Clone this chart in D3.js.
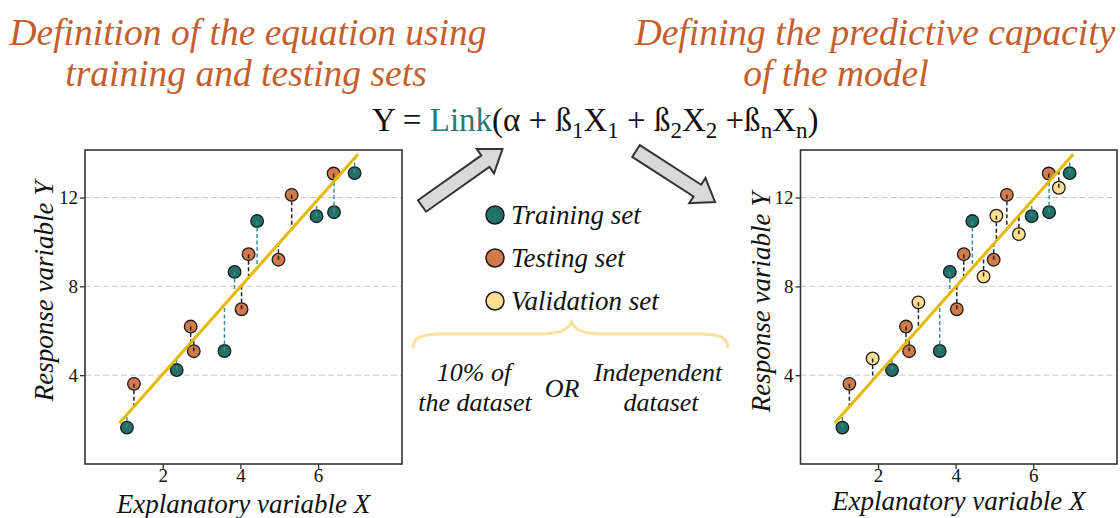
<!DOCTYPE html>
<html>
<head>
<meta charset="utf-8">
<script src="https://cdn.jsdelivr.net/npm/d3@7"></script>
<style>
  html, body { margin: 0; padding: 0; background: #fff; }
  svg { display: block; }
  text { font-family: "Liberation Serif", "Times New Roman", Times, serif; }
</style>
</head>
<body>
<svg id="chart" width="1120" height="518"></svg>
<script>
// ---------------- data ----------------
const trainX = [1.08, 2.36, 3.59, 3.85, 4.43, 5.96, 6.41, 6.94];
const trainY = [1.64, 4.23, 5.09, 8.65, 10.94, 11.16, 11.34, 13.10];
const testX  = [1.26, 2.72, 2.80, 4.03, 4.21, 4.98, 5.32, 6.40];
const testY  = [3.61, 6.19, 5.08, 6.97, 9.45, 9.20, 12.12, 13.08];
const validX = [1.86, 3.04, 4.72, 5.05, 5.63, 6.66];
const validY = [4.75, 7.28, 8.44, 11.18, 10.35, 12.44];
const fitIntercept = 0.10;
const fitSlope = 1.97;
const fitRange = [0.885, 7.03];
const xTicks = [2, 4, 6];
const yTicks = [4, 8, 12];
const xDomain = [0, 8.16];
const yDomain = [0, 14.14];
const legendLabels = ["Training set", "Testing set", "Validation set"];

// ---------------- styles ----------------
const FONT = "'Liberation Serif', 'Times New Roman', Times, serif";
const COL = { train: "#22706a", test: "#d27a4c", valid: "#fde08f",
              fit: "#e2b900", title: "#c55d2c", link: "#2b7a72",
              resTrain: "#3f8f8b", resOther: "#222", grid: "#c9c9c9" };

const svg = d3.select("#chart");

function txt(sel) {
  return sel.attr("font-family", FONT).style("font-family", FONT);
}

function panel(x0, x1, y0, y1, sets, xTitleY, yTitleX, yTitleC) {
  const x = d3.scaleLinear().domain(xDomain).range([x0, x1]);
  const y = d3.scaleLinear().domain(yDomain).range([y1, y0]);
  const g = svg.append("g");

  // gridlines
  g.selectAll(".grid").data(yTicks).join("line")
    .attr("x1", x0).attr("x2", x1)
    .attr("y1", d => y(d)).attr("y2", d => y(d))
    .attr("stroke", COL.grid).attr("stroke-width", 1)
    .attr("stroke-dasharray", "6,3");

  // axes
  const ax = g.append("g").attr("transform", `translate(0,${y1})`)
    .call(d3.axisBottom(x).tickValues(xTicks).tickSize(5).tickPadding(0).tickFormat(d3.format("d")));
  const ay = g.append("g").attr("transform", `translate(${x0},0)`)
    .call(d3.axisLeft(y).tickValues(yTicks).tickSize(5).tickPadding(2).tickFormat(d3.format("d")));
  [ax, ay].forEach(a => {
    a.attr("font-family", FONT);
    a.select(".domain").remove();
    a.selectAll(".tick line").attr("stroke", "#333").attr("stroke-width", 1.3);
    txt(a.selectAll(".tick text")).attr("fill", "#111").style("font-size", "19px");
  });

  // border
  g.append("rect").attr("x", x0).attr("y", y0)
    .attr("width", x1 - x0).attr("height", y1 - y0)
    .attr("fill", "none").attr("stroke", "#333").attr("stroke-width", 1.6);

  const fit = v => fitIntercept + fitSlope * v;

  // points
  sets.forEach(s => {
    g.selectAll(null).data(s.xs.map((v, i) => [v, s.ys[i]])).join("circle")
      .attr("cx", d => x(d[0])).attr("cy", d => y(d[1])).attr("r", 6.3)
      .attr("fill", s.color).attr("stroke", "#1a1a1a").attr("stroke-width", 1.3);
  });
  // residual segments
  sets.forEach(s => {
    g.selectAll(null).data(s.xs.map((v, i) => [v, s.ys[i]])).join("line")
      .attr("x1", d => x(d[0])).attr("x2", d => x(d[0]))
      .attr("y1", d => y(d[1])).attr("y2", d => y(fit(d[0])))
      .attr("stroke", s.res).attr("stroke-width", 1.5)
      .attr("stroke-dasharray", "4,2.5");
  });
  // regression line
  g.append("line")
    .attr("x1", x(fitRange[0])).attr("y1", y(fit(fitRange[0])))
    .attr("x2", x(fitRange[1])).attr("y2", y(fit(fitRange[1])))
    .attr("stroke", COL.fit).attr("stroke-width", 3);

  // axis titles
  txt(g.append("text")).attr("x", (x0 + x1) / 2).attr("y", xTitleY)
    .attr("text-anchor", "middle").style("font-size", "27px").style("font-style", "italic")
    .attr("fill", "#111").text("Explanatory variable X");
  txt(g.append("text")).attr("transform", `translate(${yTitleX},${yTitleC}) rotate(-90)`)
    .attr("text-anchor", "middle").style("font-size", "27px").style("font-style", "italic")
    .attr("fill", "#111").text("Response variable Y");
}

const trainSet = { xs: trainX, ys: trainY, color: COL.train, res: COL.resTrain };
const testSet  = { xs: testX,  ys: testY,  color: COL.test,  res: COL.resOther };
const validSet = { xs: validX, ys: validY, color: COL.valid, res: COL.resOther };

panel(85, 402, 150, 464, [trainSet, testSet], 513, 53, 291);
panel(800.5, 1117, 150, 464, [trainSet, testSet, validSet], 510, 770, 302);

// ---------------- titles ----------------
function title(lines) {
  lines.forEach(l => {
    txt(svg.append("text")).attr("x", l[0]).attr("y", l[1]).attr("text-anchor", "middle")
      .style("font-size", "37.5px").style("font-style", "italic").attr("fill", COL.title)
      .text(l[2]);
  });
}
title([[248, 45, "Definition of the equation using"], [246, 86, "training and testing sets"]]);
title([[875, 45, "Defining the predictive capacity"], [836, 86, "of the model"]]);

// ---------------- equation ----------------
const eq = txt(svg.append("text")).attr("x", 372).attr("y", 131)
  .style("font-size", "33px").attr("fill", "#111");
eq.append("tspan").text("Y = ");
eq.append("tspan").attr("fill", COL.link).text("Link");
const parts = [["(α + ß", "1"], ["X", "1"], [" + ß", "2"], ["X", "2"], [" +ß", "n"], ["X", "n"], [")", null]];
let lowered = false;
parts.forEach(p => {
  const t = eq.append("tspan").text(p[0]);
  if (lowered) { t.attr("dy", -7); lowered = false; }
  if (p[1] !== null) {
    eq.append("tspan").attr("dy", 7).style("font-size", "23px").text(p[1]);
    lowered = true;
  }
});

// ---------------- arrows ----------------
function arrow(tx, ty, hx, hy) {
  const L = Math.hypot(hx - tx, hy - ty), ang = Math.atan2(hy - ty, hx - tx) * 180 / Math.PI;
  const w = 14, H = 30, h = 21;
  const pts = [[0, -w/2], [L-h, -w/2], [L-h, -H/2], [L, 0], [L-h, H/2], [L-h, w/2], [0, w/2]];
  svg.append("path").attr("d", d3.line()(pts) + "Z")
    .attr("transform", `translate(${tx},${ty}) rotate(${ang})`)
    .attr("fill", "#d9d9d9").attr("stroke", "#333").attr("stroke-width", 2)
    .attr("stroke-linejoin", "miter");
}
arrow(422, 206, 502.5, 149);
arrow(636, 151, 715, 202);

// ---------------- legend ----------------
const legColors = [COL.train, COL.test, COL.valid];
const legY = d3.scalePoint().domain(legendLabels).range([215, 301]);
legendLabels.forEach((lab, i) => {
  svg.append("circle").attr("cx", 495).attr("cy", legY(lab)).attr("r", 9)
    .attr("fill", legColors[i]).attr("stroke", "#1a1a1a").attr("stroke-width", 1.5);
  txt(svg.append("text")).attr("x", 511).attr("y", legY(lab) + 9)
    .style("font-size", "27px").style("font-style", "italic").attr("fill", "#111").text(lab);
});

// ---------------- brace ----------------
svg.append("path")
  .attr("d", "M413,348 C413,337 422,334 442,334 L538,334 C560,334 568,330 571.5,322 C575,330 583,334 605,334 L699,334 C719,334 728,337 728,348")
  .attr("fill", "none").attr("stroke", "#fde0a0").attr("stroke-width", 3);

// ---------------- bottom notes ----------------
const notes = [[474, 381, "10% of"], [475, 411, "the dataset"], [562, 397, "OR"],
               [658, 381, "Independent"], [661, 411, "dataset"]];
notes.forEach(n => {
  txt(svg.append("text")).attr("x", n[0]).attr("y", n[1]).attr("text-anchor", "middle")
    .style("font-size", "26px").style("font-style", "italic").attr("fill", "#111").text(n[2]);
});
</script>
</body>
</html>
